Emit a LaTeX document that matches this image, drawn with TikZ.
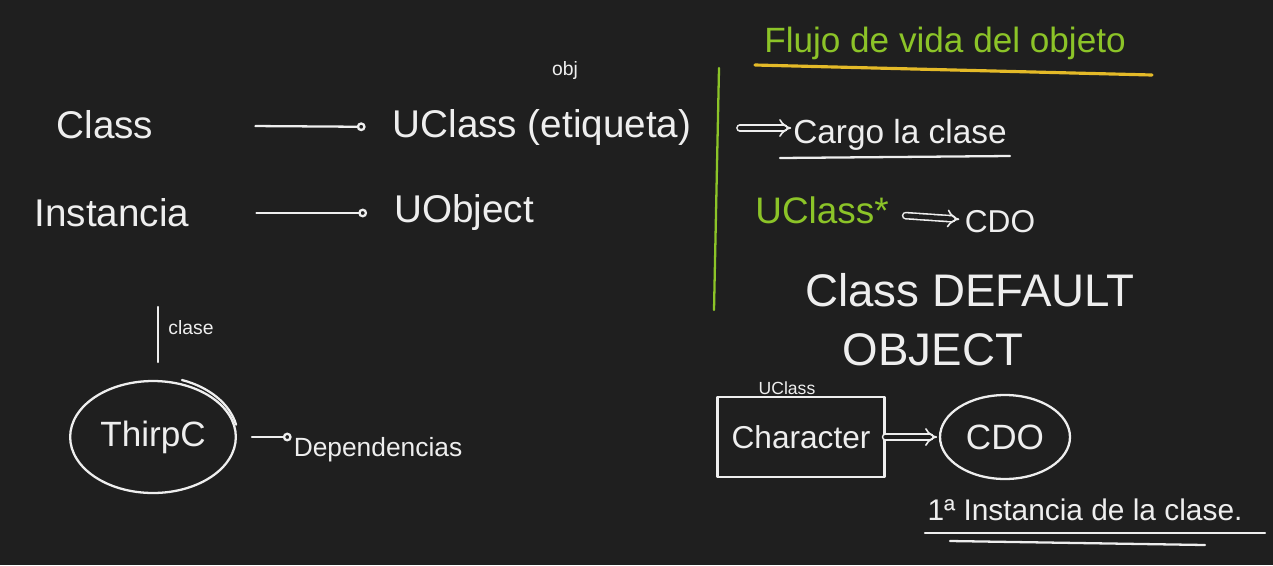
\documentclass[tikz,border=0pt]{standalone}
\usepackage{fontspec}
\setmainfont{Liberation Sans}
\usetikzlibrary{arrows.meta, shapes.geometric, calc}
\definecolor{BoardDark}{RGB}{31,31,31}
\definecolor{Chalk}{RGB}{238,238,238}
\definecolor{ChalkGreen}{RGB}{140,196,40}
\definecolor{ChalkYellow}{RGB}{228,186,40}
\newcommand{\hand}[1]{\fontsize{#1}{#1}\selectfont}

\begin{document}
\begin{tikzpicture}[x=0.02cm, y=-0.02cm, line cap=round, line join=round]
    \tikzset{
        word/.style={text=Chalk, inner sep=1pt, font=\hand{22}},
        greenword/.style={text=ChalkGreen, inner sep=1pt, font=\hand{20}},
        small/.style={text=Chalk, inner sep=1pt, font=\hand{11}},
        chalkline/.style={draw=Chalk, line width=1.3pt},
        link/.style={chalkline, -{Circle[open, length=5pt, width=5pt]}},
        implies/.style={draw=Chalk, line width=0.9pt, double=BoardDark,
            double distance=2.6pt, -{Implies}},
        classbox/.style={rectangle, chalkline, minimum width=3.34cm,
            minimum height=1.6cm, text=Chalk, font=\hand{18}},
        blob/.style={ellipse, chalkline, text=Chalk, font=\hand{20}}
    }
    \fill[BoardDark] (0,0) rectangle (1273,565);
    \useasboundingbox (0,0) rectangle (1273,565);
    \node[word] (cls) at (105,125) {Class};
    \node[word] (ucls) at (542,128) {UClass (etiqueta)};
    \node[small] (obj) at (565,70) {obj};
    \node[word] (inst) at (112,213) {Instancia};
    \node[word] (uobj) at (464,213) {UObject};
    \draw[link, shorten <=2.0cm, shorten >=0.5cm] (cls) -- (ucls);
    \draw[link, shorten <=1.3cm, shorten >=0.5cm] (inst) -- (uobj);
    \draw[draw=ChalkGreen, line width=1.3pt] (719,68) -- (714,310);
    \node[greenword] (flow) at (945,43) {Flujo de vida del objeto};
    \draw[draw=ChalkYellow, line width=1.8pt] (755,65) -- (1152,75);
    \coordinate (cstart) at (740,128);
    \node[word, font=\hand{19}] (cargo) at (900,135) {Cargo la clase};
    \draw[implies] (cstart) -- (cstart -| cargo.west);
    \draw[chalkline] (780,158) -- (1010,156);
    \node[greenword, font=\hand{21}] (uptr) at (822,210) {UClass*};
    \node[word, font=\hand{18}] (cdo) at (1000,222) {CDO};
    \draw[implies, shorten <=0.3cm, shorten >=2pt] (uptr) -- (cdo);
    \node[word, font=\hand{26}] (cdef) at (970,290) {Class DEFAULT};
    \node[word, font=\hand{26}] (cobj) at (933,350) {OBJECT};
    \draw[chalkline] (158,307) -- (158,362);
    \node[small] (clase) at (191,328) {clase};
    \node[blob, minimum width=3.2cm, minimum height=2.24cm] (thirp) at (153,437) {ThirpC};
    \draw[chalkline] ($(thirp.center)+(29,-57)$) arc[start angle=-70, end angle=-12,
        x radius=85, y radius=61];
    \node[word, font=\hand{15}] (dep) at (378,450) {Dependencias};
    \draw[link, shorten <=0.3cm] (thirp.east) -- (thirp.east -| dep.west);
    \node[small, font=\hand{10}] (ucap) at (787,388) {UClass};
    \node[classbox] (chr) at (801,437) {Character};
    \node[blob, minimum width=2.6cm, minimum height=1.68cm] (cdo2) at (1005,437) {CDO};
    \draw[implies, shorten >=1pt] (chr) -- (cdo2);
    \node[word, font=\hand{17}] (first) at (1085,510) {1ª Instancia de la clase.};
    \draw[chalkline] (925,533) -- (1265,533);
    \draw[chalkline] (950,541) -- (1205,545);
\end{tikzpicture}
\end{document}
